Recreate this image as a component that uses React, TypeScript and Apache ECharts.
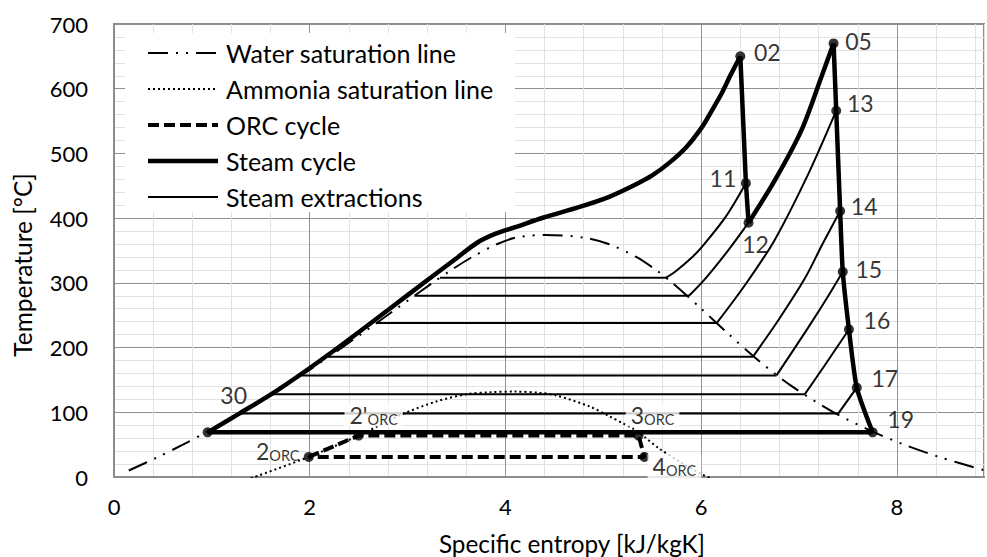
import React, { useEffect, useRef } from 'react';
import * as echarts from 'echarts';

// ---------- data (entropy s [kJ/kgK], temperature T [°C]) ----------
const xTickLabels = [0, 2, 4, 6, 8];
const yTickLabels = [0, 100, 200, 300, 400, 500, 600, 700];

const waterSat: [number, number][] = [
  [0.151, 10], [0.437, 30], [0.704, 50], [0.955, 70], [1.307, 100], [1.739, 140],
  [2.139, 180], [2.518, 220], [2.885, 260], [3.255, 300], [3.449, 320], [3.66, 340],
  [3.917, 360], [4.111, 370], [4.407, 374], [4.8, 370], [5.054, 360], [5.336, 340],
  [5.537, 320], [5.705, 300], [6.001, 260], [6.286, 220], [6.585, 180], [6.929, 140],
  [7.354, 100], [7.754, 70], [8.075, 50], [8.452, 30], [8.9, 10],
];

const ammoniaSat: [number, number][] = [
  [1.4, -2], [1.99, 31], [2.5, 64], [2.93, 96], [3.3, 117], [3.61, 128], [3.85, 131],
  [4.1, 132], [4.35, 130], [4.52, 126], [4.86, 109], [5.06, 94], [5.2, 83], [5.3, 75],
  [5.42, 62], [5.57, 44], [5.8, 22], [6.01, 4], [6.13, -4],
];

const orcCycle: [number, number][] = [
  [1.99, 31], [2.5, 64], [5.36, 64], [5.42, 31], [1.99, 31],
];

const steamHeating: [number, number][] = [
  [0.957, 69], [1.28, 98], [1.68, 135], [2.2, 190], [2.8, 258], [3.2, 304], [3.5, 338],
  [3.71, 362], [3.9, 376], [4.1, 386], [4.39, 401], [4.75, 417], [5.06, 433], [5.33, 452],
  [5.5, 466], [5.67, 485], [5.85, 510], [6.01, 541], [6.1, 564], [6.21, 593], [6.3, 621],
  [6.4, 650],
];
const steamHP: [number, number][] = [[6.4, 650], [6.457, 454], [6.484, 393]];
const steamReheat: [number, number][] = [
  [6.484, 393], [6.755, 459], [7.025, 536], [7.23, 619], [7.353, 670],
];
const steamLP: [number, number][] = [
  [7.353, 670], [7.38, 566], [7.42, 411], [7.447, 317], [7.51, 228], [7.59, 138], [7.752, 69],
];
const steamCondensation: [number, number][] = [[7.752, 69], [0.957, 69]];

// steam extractions: condensation levels and curves in the superheated region
const extractionT = [308, 280, 238, 186, 157, 128, 98];
const extractionLiquidS = [3.33, 3.07, 2.68, 2.19, 1.92, 1.61, 1.28];
const extractionVapourS = [5.64, 5.875, 6.16, 6.53, 6.77, 7.06, 7.4];
const extractionCurves: [number, number][][] = [
  [[5.64, 308], [5.74, 318], [5.91, 340], [6.01, 356], [6.25, 402], [6.457, 454]],
  [[5.875, 280], [6.045, 307], [6.28, 351], [6.484, 393]],
  [[6.16, 238], [6.45, 297], [6.75, 366], [7.1, 470], [7.38, 566]],
  [[6.53, 186], [6.8, 245], [7.06, 307], [7.24, 360], [7.42, 411]],
  [[6.77, 157], [7.09, 230], [7.3, 280], [7.447, 317]],
  [[7.06, 128], [7.26, 172], [7.51, 228]],
  [[7.4, 98], [7.59, 138]],
];

const pointNames = ['02', '05', '13', '11', '12', '14', '15', '16', '17', '19', '30', '2ORC', "2'ORC", '3ORC', '4ORC'];
const pointValues: [number, number][] = [
  [6.4, 650], [7.353, 670], [7.38, 566], [6.457, 454], [6.484, 393], [7.42, 411],
  [7.447, 317], [7.51, 228], [7.59, 138], [7.752, 69], [0.957, 69], [1.99, 31],
  [2.5, 64], [5.36, 64], [5.42, 31],
];

const legendNames = [
  'Water saturation line', 'Ammonia saturation line', 'ORC cycle', 'Steam cycle', 'Steam extractions',
];

// ---------- styles ----------
const FONT = 'Lato';
const MAJOR = '#929292';
const MINOR = '#e2e2e2';
const BORDER = '#8c8c8c';
const waterStyle = { color: '#000', width: 2, type: [20, 8, 2, 8, 2, 8] as number[] };
const ammoniaStyle = { color: '#000', width: 2, type: [2, 3] as number[] };
const orcStyle = { color: '#000', width: 4, type: [11, 5] as number[] };
const steamStyle = { color: '#000', width: 4.5, type: 'solid' as const };
const extractionStyle = { color: '#000', width: 2, type: 'solid' as const };
const legendStyles = [waterStyle, ammoniaStyle, orcStyle, steamStyle, extractionStyle];

const labelOffsets: Record<string, [number, number]> = {
  '02': [27, -5], '05': [25, -3], '13': [24, -8], '11': [-23, -6], '12': [7, 21],
  '14': [24, -6], '15': [26, -3], '16': [28, -10], '17': [28, -10], '19': [28, -14],
  '30': [26, -38], '2ORC': [-31, -6], "2'ORC": [15, -21], '3ORC': [14, -21], '4ORC': [30, 9],
};
const withBg = new Set(["2'ORC", '3ORC', '4ORC']);

function lineSeries(name: string, data: [number, number][], style: any, smooth: number | boolean) {
  return {
    type: 'line',
    name,
    data,
    smooth,
    symbol: 'none',
    silent: true,
    clip: true,
    lineStyle: { color: style.color, width: style.width, type: style.type, cap: 'butt' },
    emphasis: { disabled: true },
    z: 3,
  };
}

export default function App() {
  const ref = useRef<HTMLDivElement>(null);
  useEffect(() => {
    const chart = echarts.init(ref.current!, null, { renderer: 'svg' });

    const series: any[] = [];
    series.push(lineSeries(legendNames[0], waterSat, waterStyle, 0.3));
    series.push(lineSeries(legendNames[1], ammoniaSat, ammoniaStyle, 0.3));
    extractionT.forEach((t, i) => {
      series.push(lineSeries(legendNames[4], [[extractionLiquidS[i], t], [extractionVapourS[i], t]], extractionStyle, false));
      series.push(lineSeries(legendNames[4], extractionCurves[i], extractionStyle, 0.3));
    });
    series.push(lineSeries(legendNames[2], orcCycle, orcStyle, false));
    series.push(lineSeries(legendNames[3], steamHeating, steamStyle, 0.3));
    series.push(lineSeries(legendNames[3], steamHP, steamStyle, false));
    series.push(lineSeries(legendNames[3], steamReheat, steamStyle, 0.3));
    series.push(lineSeries(legendNames[3], steamLP, steamStyle, 0.2));
    series.push(lineSeries(legendNames[3], steamCondensation, steamStyle, false));

    series.push({
      type: 'scatter',
      name: 'points',
      silent: true,
      symbol: 'circle',
      symbolSize: 10,
      itemStyle: { color: '#000' },
      z: 10,
      data: pointNames.map((n, i) => {
        const isOrc = n.endsWith('ORC');
        return {
          value: pointValues[i],
          name: n,
          label: {
            show: true,
            position: 'inside',
            offset: labelOffsets[n],
            formatter: isOrc ? `{n|${n.replace('ORC', '')}}{s|ORC}` : `{n|${n}}`,
            backgroundColor: withBg.has(n) ? '#fff' : 'transparent',
            padding: withBg.has(n) ? [0, 5, 0, 5] : 0,
            rich: {
              n: { fontSize: 23, fontFamily: FONT, color: '#000', verticalAlign: 'bottom', lineHeight: 24 },
              s: { fontSize: 14.5, fontFamily: FONT, color: '#000', verticalAlign: 'bottom', lineHeight: 17 },
            },
          },
        };
      }),
    });

    const graphic: any[] = [
      { type: 'rect', z: 100, shape: { x: 125, y: 33, width: 390, height: 179 }, style: { fill: '#fff' } },
    ];
    legendNames.forEach((n, i) => {
      const y = 53 + i * 36;
      const st = legendStyles[i];
      graphic.push({
        type: 'line', z: 101,
        shape: { x1: 148, y1: y, x2: 218, y2: y },
        style: { stroke: '#000', lineWidth: st.width, lineDash: Array.isArray(st.type) ? st.type : null },
      });
      graphic.push({
        type: 'text', z: 101, x: 226, y,
        style: { text: n, fill: '#000', fontSize: 25, fontFamily: FONT, align: 'left', verticalAlign: 'middle' },
      });
    });
    graphic.push({
      type: 'text', z: 101, x: 572, y: 543,
      style: { text: 'Specific entropy [kJ/kgK]', fill: '#000', fontSize: 24.3, fontFamily: FONT, align: 'center', verticalAlign: 'middle' },
    });
    graphic.push({
      type: 'text', z: 101, x: 22, y: 265, rotation: Math.PI / 2,
      style: { text: 'Temperature [°C]', fill: '#000', fontSize: 24.5, fontFamily: FONT, align: 'center', verticalAlign: 'middle' },
    });

    chart.setOption({
      animation: false,
      backgroundColor: '#fff',
      textStyle: { fontFamily: FONT },
      grid: { left: 114, right: -3, top: 24, bottom: 80, show: true, borderColor: BORDER, borderWidth: 2 },
      xAxis: {
        type: 'value', min: 0, max: 8.89, interval: 0.4,
        axisLine: { show: true, onZero: false, lineStyle: { color: BORDER, width: 2 } },
        axisTick: { show: false },
        splitLine: { show: true, lineStyle: { color: [MAJOR, MINOR, MINOR, MINOR, MINOR], width: 1 } },
        axisLabel: {
          color: '#000', fontSize: 22, fontFamily: FONT, margin: 18,
          formatter: (v: number) => (xTickLabels.some((t) => Math.abs(t - v) < 1e-6) ? String(Math.round(v)) : ''),
        },
      },
      yAxis: {
        type: 'value', min: 0, max: 700, interval: 20,
        axisLine: { show: true, onZero: false, lineStyle: { color: BORDER, width: 2 } },
        axisTick: { show: false },
        splitLine: { show: true, lineStyle: { color: [MAJOR, MINOR, MINOR, MINOR, MINOR], width: 1 } },
        axisLabel: {
          color: '#000', fontSize: 22, fontFamily: FONT, margin: 26,
          formatter: (v: number) => (yTickLabels.some((t) => Math.abs(t - v) < 1e-6) ? String(Math.round(v)) : ''),
        },
      },
      series,
      graphic,
    });
    return () => chart.dispose();
  }, []);
  return <div ref={ref} style={{ position: 'fixed', left: 0, top: 0, width: 987, height: 557 }} />;
}
